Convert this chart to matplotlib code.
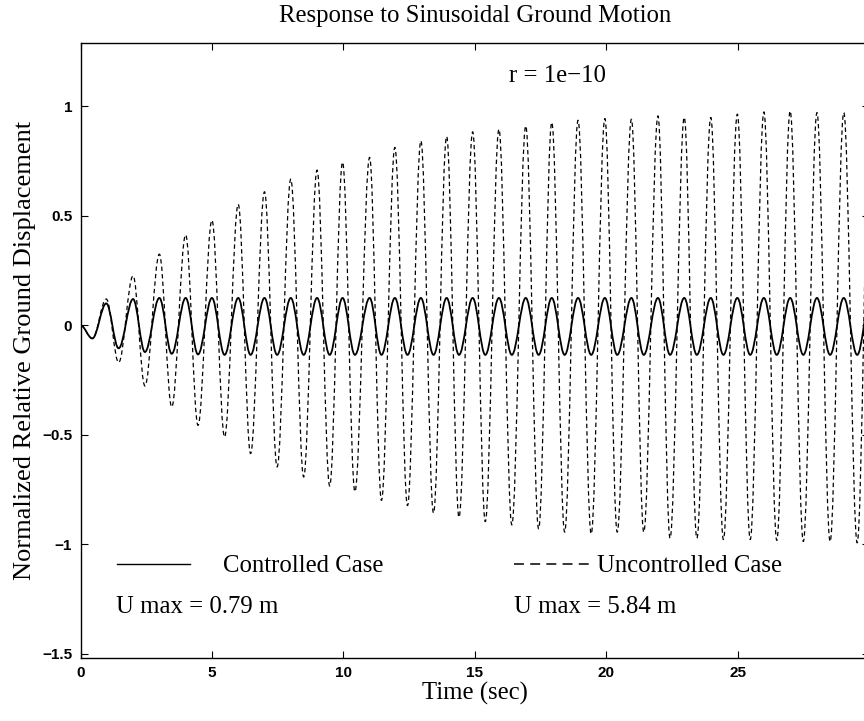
import matplotlib
matplotlib.use("Agg")
import matplotlib.pyplot as plt
from matplotlib.path import Path
from matplotlib.patches import PathPatch
from matplotlib.lines import Line2D

# ---- data (extrema: start, then trough/peak pairs) ----
ext_time = [0.0,
            0.45, 0.98, 1.45, 2.0, 2.45, 3.0, 3.47, 4.0, 4.47, 5.0,
            5.48, 6.0, 6.47, 7.0, 7.48, 8.0, 8.49, 9.0, 9.48, 9.97,
            10.44, 11.0, 11.45, 11.96, 12.44, 12.95, 13.43, 13.93, 14.4, 14.92,
            15.4, 15.92, 16.41, 16.94, 17.43, 17.93, 18.42, 18.93, 19.43, 19.95,
            20.42, 20.96, 21.43, 21.97, 22.43, 22.97, 23.45, 23.98, 24.46, 24.99,
            25.48, 26.0, 26.49, 27.0, 27.5, 28.02, 28.52, 29.04, 29.55, 30.05]

uncontrolled = [0.0,
                -0.06, 0.12, -0.17, 0.226, -0.277, 0.325, -0.373, 0.413, -0.457, 0.48,
                -0.51, 0.553, -0.586, 0.61, -0.647, 0.668, -0.693, 0.709, -0.734, 0.745,
                -0.76, 0.767, -0.80, 0.813, -0.824, 0.843, -0.858, 0.863, -0.877, 0.884,
                -0.897, 0.896, -0.912, 0.911, -0.93, 0.927, -0.945, 0.937, -0.953, 0.945,
                -0.945, 0.942, -0.945, 0.957, -0.973, 0.95, -0.973, 0.95, -0.979, 0.965,
                -0.979, 0.975, -0.983, 0.979, -0.988, 0.972, -0.988, 0.972, -0.994, 0.98]

controlled = [0.0,
              -0.06, 0.10, -0.105, 0.12, -0.122, 0.125, -0.13, 0.125, -0.133, 0.125,
              -0.135, 0.125, -0.135, 0.125, -0.135, 0.125, -0.135, 0.125, -0.135, 0.125,
              -0.135, 0.125, -0.135, 0.125, -0.135, 0.125, -0.135, 0.125, -0.135, 0.125,
              -0.135, 0.125, -0.135, 0.125, -0.135, 0.125, -0.135, 0.125, -0.135, 0.125,
              -0.135, 0.125, -0.135, 0.125, -0.135, 0.125, -0.135, 0.125, -0.135, 0.125,
              -0.135, 0.125, -0.135, 0.125, -0.135, 0.125, -0.135, 0.125, -0.135, 0.125]

x_ticks = [0, 5, 10, 15, 20, 25]
y_ticks = [-1.5, -1, -0.5, 0, 0.5, 1]
y_tick_labels = ["\u22121.5", "\u22121", "\u22120.5", "0", "0.5", "1"]

title = "Response to Sinusoidal Ground Motion"
x_label = "Time (sec)"
y_label = "Normalized Relative Ground Displacement"
r_note = "r = 1e\u221210"
ctl_label = "Controlled Case"
unc_label = "Uncontrolled Case"
ctl_umax = "U max = 0.79 m"
unc_umax = "U max = 5.84 m"

SERIF = "Liberation Serif"
FS = 17.8


def smooth_path(ts, vs, k=0.3634):
    """Cubic Bezier segments between extrema with horizontal tangents."""
    verts = [(ts[0], vs[0])]
    codes = [Path.MOVETO]
    for i in range(1, len(ts)):
        dt = ts[i] - ts[i - 1]
        verts += [(ts[i - 1] + k * dt, vs[i - 1]),
                  (ts[i] - k * dt, vs[i]),
                  (ts[i], vs[i])]
        codes += [Path.CURVE4] * 3
    return Path(verts, codes)


fig = plt.figure(figsize=(8.64, 7.21), dpi=100)
ax = fig.add_axes([0.0932, 0.0874, 0.9126, 0.853])

unc_patch = PathPatch(smooth_path(ext_time, uncontrolled), facecolor="none",
                      edgecolor="black", lw=0.9, linestyle=(0, (3.5, 2.5)))
ctl_patch = PathPatch(smooth_path(ext_time, controlled), facecolor="none",
                      edgecolor="black", lw=1.3)
ax.add_patch(unc_patch)
ax.add_patch(ctl_patch)

ax.set_xlim(0, 30)
ax.set_ylim(-1.52, 1.29)
ax.set_xticks(x_ticks)
ax.set_yticks(y_ticks)
ax.set_yticklabels(y_tick_labels)
ax.tick_params(direction="in", top=True, right=True, length=5, width=0.8,
               labelsize=11, pad=6)
for lab in ax.get_xticklabels() + ax.get_yticklabels():
    lab.set_fontfamily("Liberation Sans")
    lab.set_fontweight("bold")
ax.spines["right"].set_visible(False)
for s in ["left", "top", "bottom"]:
    ax.spines[s].set_linewidth(1.0)

ax.set_title(title, fontfamily=SERIF, fontsize=FS, pad=15)
ax.set_xlabel(x_label, fontfamily=SERIF, fontsize=FS, labelpad=1)
ax.set_ylabel(y_label, fontfamily=SERIF, fontsize=19)
ax.yaxis.set_label_coords(-0.057, 0.5)

ax.text(16.3, 1.14, r_note, fontfamily=SERIF, fontsize=FS, va="center", ha="left")

leg1 = ax.legend([Line2D([], [], color="black", lw=1.0)], [ctl_label],
                 loc="center left", bbox_to_anchor=(1.4, -1.10),
                 bbox_transform=ax.transData, frameon=False, borderpad=0,
                 borderaxespad=0, handlelength=2.95, handletextpad=1.32,
                 prop={"family": SERIF, "size": FS})
ax.add_artist(leg1)
ax.legend([Line2D([], [], color="black", lw=1.1, linestyle=(0, (6.5, 4.1)))], [unc_label],
          loc="center left", bbox_to_anchor=(16.5, -1.10),
          bbox_transform=ax.transData, frameon=False, borderpad=0,
          borderaxespad=0, handlelength=3.06, handletextpad=0.3,
          prop={"family": SERIF, "size": FS})

ax.text(1.34, -1.286, ctl_umax, fontfamily=SERIF, fontsize=FS, va="center", ha="left")
ax.text(16.5, -1.286, unc_umax, fontfamily=SERIF, fontsize=FS, va="center", ha="left")

fig.savefig("out.png", dpi=100)
